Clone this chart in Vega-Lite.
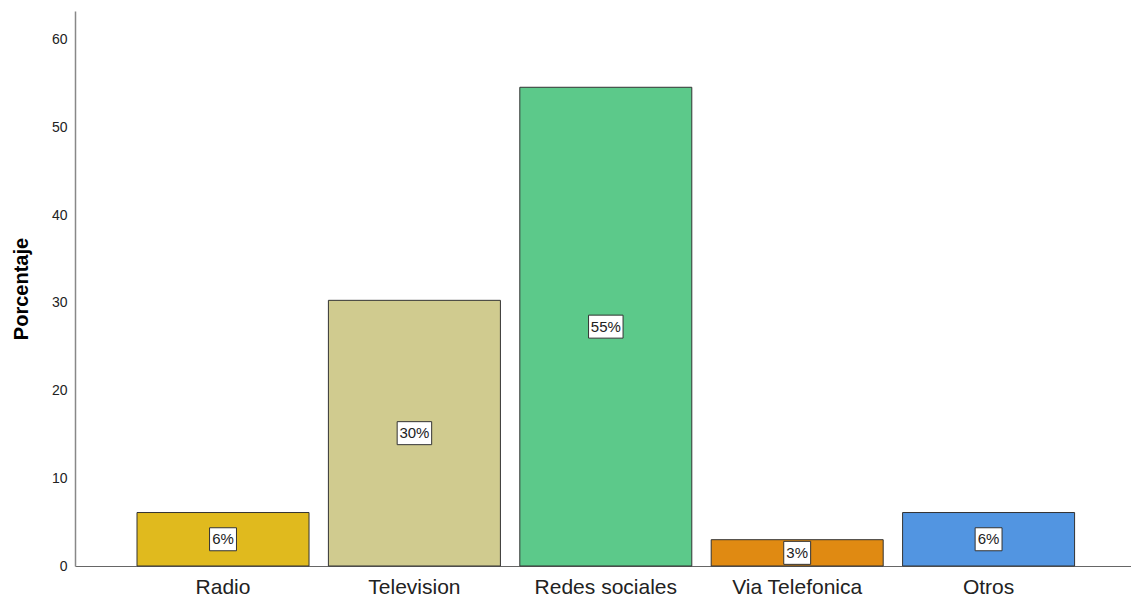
{
  "$schema": "https://vega.github.io/schema/vega-lite/v6.json",
  "width": 1056,
  "height": 555,
  "autosize": {"type": "none"},
  "padding": {"left": 75, "top": 11, "right": 0, "bottom": 32},
  "background": "white",
  "config": {"view": {"stroke": null}, "font": "Liberation Sans"},
  "data": {
    "values": [
      {"cat": "Radio", "pct": 6.1, "label": "6%"},
      {"cat": "Television", "pct": 30.3, "label": "30%"},
      {"cat": "Redes sociales", "pct": 54.6, "label": "55%"},
      {"cat": "Via Telefonica", "pct": 3.0, "label": "3%"},
      {"cat": "Otros", "pct": 6.1, "label": "6%"}
    ]
  },
  "encoding": {
    "x": {
      "field": "cat",
      "type": "nominal",
      "sort": null,
      "scale": {"range": [0, 1061.6], "paddingInner": 0.1013, "paddingOuter": 0.324},
      "axis": {
        "title": null,
        "labelAngle": 0,
        "labelFontSize": 21,
        "labelColor": "#222222",
        "ticks": false,
        "labelPadding": 10,
        "domainColor": "#666666",
        "domainWidth": 1
      }
    }
  },
  "resolve": {"scale": {"y": "independent"}},
  "layer": [
    {
      "mark": {"type": "bar", "stroke": "#333333", "strokeWidth": 1},
      "encoding": {
        "y": {
          "field": "pct",
          "type": "quantitative",
          "scale": {"domain": [0, 63.3], "nice": false},
          "axis": {
            "title": "Porcentaje",
            "titleFontSize": 20,
            "titleFontWeight": "bold",
            "titleColor": "#000000",
            "titlePadding": 20,
            "grid": false,
            "ticks": false,
            "values": [0, 10, 20, 30, 40, 50, 60],
            "labelFontSize": 14,
            "labelColor": "#222222",
            "labelPadding": 8,
            "domainColor": "#888888",
            "domainWidth": 1.5
          }
        },
        "color": {
          "field": "cat",
          "type": "nominal",
          "scale": {
            "domain": ["Radio", "Television", "Redes sociales", "Via Telefonica", "Otros"],
            "range": ["#E0BA1E", "#D0CB8F", "#5CC98A", "#E08A12", "#5295E1"]
          },
          "legend": null
        }
      }
    },
    {
      "encoding": {
        "y": {
          "field": "pct",
          "type": "quantitative",
          "scale": {"domain": [0, 126.6], "nice": false},
          "axis": null
        }
      },
      "layer": [
        {
          "mark": {"type": "point", "filled": true, "fill": "white", "stroke": "#333333", "strokeWidth": 1, "opacity": 1},
          "encoding": {
            "shape": {
              "field": "label",
              "type": "nominal",
              "scale": {
                "domain": ["6%", "30%", "55%", "3%"],
                "range": [
                  "M-1.17,-1L1.17,-1L1.17,1L-1.17,1Z",
                  "M-1.5,-1L1.5,-1L1.5,1L-1.5,1Z",
                  "M-1.5,-1L1.5,-1L1.5,1L-1.5,1Z",
                  "M-1.17,-1L1.17,-1L1.17,1L-1.17,1Z"
                ]
              },
              "legend": null
            },
            "size": {"value": 529}
          }
        },
        {
          "mark": {"type": "text", "fontSize": 15, "color": "#222222", "baseline": "middle", "align": "center"},
          "encoding": {
            "text": {"field": "label", "type": "nominal"}
          }
        }
      ]
    }
  ]
}
